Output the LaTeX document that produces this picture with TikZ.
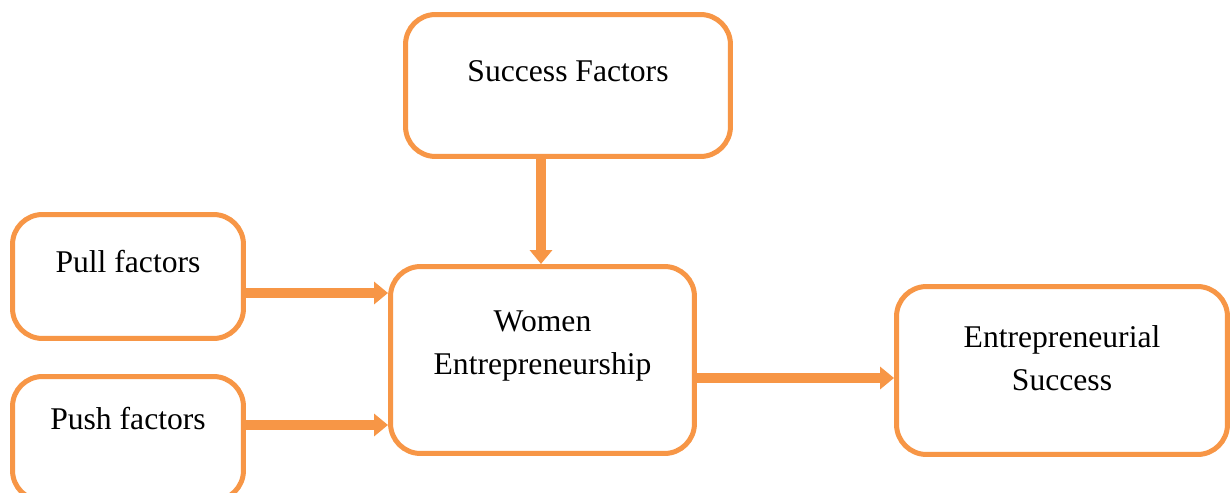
\documentclass[tikz,border=0pt]{standalone}
\usepackage{fontspec}
\setmainfont{Liberation Serif}
\usepackage{tikz}
\usetikzlibrary{arrows.meta}

\definecolor{boxorange}{HTML}{F79646}

\begin{document}
\begin{tikzpicture}[
		x=0.02cm, y=-0.02cm
		,box/.style={draw=boxorange, line width=0.1cm, rounded corners=0.6cm, rectangle, fill=white}
		,txt/.style={font=\fontsize{18}{24.5}\selectfont, align=center, inner sep=0pt}
		,arr/.style={draw=boxorange, line width=0.2cm, -{Triangle[length=0.28cm, width=0.44cm]}}
	]
		\useasboundingbox (0,0) rectangle (1230,493);

		\node [box, minimum width=6.5cm, minimum height=2.84cm] (SF) at (568,85.5) {};
		\node [box, minimum width=4.62cm, minimum height=2.48cm] (PL) at (128,276.5) {};
		\node [box, minimum width=4.62cm, minimum height=2.48cm] (PS) at (128,438.5) {};
		\node [box, minimum width=6.08cm, minimum height=3.74cm] (WE) at (542.5,360) {};
		\node [box, minimum width=6.62cm, minimum height=3.36cm] (ES) at (1062,370.5) {};

		\node [txt, anchor=base] at ([yshift=0.07cm]SF.center) {Success Factors};
		\node [txt, anchor=base] at ([yshift=0.09cm]PL.center) {Pull factors};
		\node [txt, anchor=base] at ([yshift=0.19cm]PS.center) {Push factors};
		\node [txt] at ([yshift=0.28cm]WE.center) {Women\\Entrepreneurship};
		\node [txt] at ([yshift=0.24cm]ES.center) {Entrepreneurial\\Success};

		\draw [arr] ([xshift=-0.54cm]SF.south) -- ([xshift=-0.54cm]SF.south |- WE.north);
		\draw [arr] ([yshift=-0.33cm]PL.east) -- ([yshift=-0.33cm]PL.east -| WE.west);
		\draw [arr] ([yshift=0.27cm]PS.east) -- ([yshift=0.27cm]PS.east -| WE.west);
		\draw [arr] ([yshift=-0.36cm]WE.east) -- ([yshift=-0.36cm]WE.east -| ES.west);
	\end{tikzpicture}
\end{document}
